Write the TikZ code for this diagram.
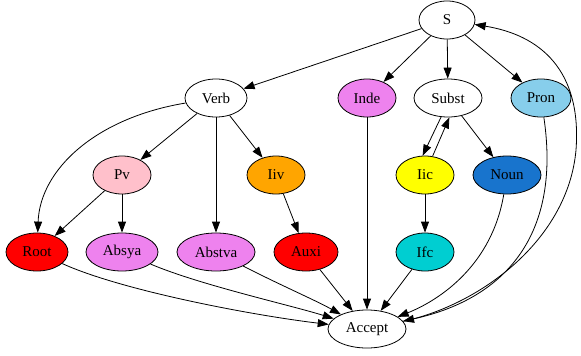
\documentclass[tikz,border=0pt]{standalone}
\usepackage{fontspec}
\setmainfont{Liberation Serif}
\usetikzlibrary{shapes.geometric,arrows.meta}

\definecolor{pvpink}{HTML}{FFC0CB}
\definecolor{iivorange}{HTML}{FFA500}
\definecolor{rootred}{HTML}{FF0000}
\definecolor{absviolet}{HTML}{EE82EE}
\definecolor{iicyellow}{HTML}{FFFF00}
\definecolor{ifcturq}{HTML}{00CED1}
\definecolor{nounblue}{HTML}{1874CD}
\definecolor{pronsky}{HTML}{87CEEB}

\begin{document}
\begin{tikzpicture}[x=1pt,y=-1pt,
  st/.style={draw=black,ellipse,minimum height=38pt,inner sep=0pt,line width=0.8pt,
    font=\fontsize{15}{18}\selectfont},
  ar/.style={draw=black,line width=0.8pt,-{Triangle[length=11pt,width=8pt]}}]

\useasboundingbox (0,0) rectangle (581,356);

%top
\node[st,minimum width=56pt] (s) at (447,20) {S};

%second row
\node[st,minimum width=62pt] (verb) at (216,98) {Verb};
\node[st,minimum width=58pt,fill=absviolet] (inde) at (367,98) {Inde};
\node[st,minimum width=68pt] (subst) at (448,98) {Subst};
\node[st,minimum width=60pt,fill=pronsky] (pron) at (541,98) {Pron};

%third row
\node[st,minimum width=58pt,fill=pvpink] (pv) at (122,175) {Pv};
\node[st,minimum width=58pt,fill=iivorange] (iiv) at (276,175) {Iiv};
\node[st,minimum width=58pt,fill=iicyellow] (iic) at (425,175) {Iic};
\node[st,minimum width=68pt,fill=nounblue] (noun) at (507,175) {Noun};

%fourth row
\node[st,minimum width=62pt,fill=rootred] (root) at (37,252) {Root};
\node[st,minimum width=72pt,fill=absviolet] (absya) at (122,252) {Absya};
\node[st,minimum width=78pt,fill=absviolet] (abstva) at (216,252) {Abstva};
\node[st,minimum width=64pt,fill=rootred] (auxi) at (306,252) {Auxi};
\node[st,minimum width=58pt,fill=ifcturq] (ifc) at (425,252) {Ifc};

%bottom
\node[st,minimum width=78pt] (accept) at (367,329) {Accept};

%edges from s
\path[ar] (s) -- (verb);
\path[ar] (s) -- (inde);
\path[ar] (s) -- (subst);
\path[ar] (s) -- (pron);

%verb
\path[ar] (verb) -- (pv);
\path[ar] (verb) -- (abstva);
\path[ar] (verb) -- (iiv);
\path[ar] (verb) .. controls (95,118) and (40,170) .. (root);
\path[ar] (pv) -- (root);
\path[ar] (pv) -- (absya);
\path[ar] (iiv) -- (auxi);

%subst
\path[ar] (subst.250) -- (iic.97);
\path[ar] (iic.68) -- (subst.274);
\path[ar] (subst) -- (noun);
\path[ar] (iic) -- (ifc);

%to accept
\path[ar] (root) .. controls (120,290) and (250,315) .. (accept);
\path[ar] (absya) .. controls (200,285) and (290,305) .. (accept);
\path[ar] (abstva) .. controls (280,285) and (315,300) .. (accept);
\path[ar] (auxi) -- (accept);
\path[ar] (inde) -- (accept);
\path[ar] (ifc) -- (accept);
\path[ar] (noun) .. controls (492,265) and (440,300) .. (accept);
\path[ar] (pron) .. controls (562,240) and (500,300) .. (accept);

%back to s
\path[ar] (accept) .. controls (480,305) and (568,240) .. (576,150)
  .. controls (582,70) and (540,35) .. (s);

\end{tikzpicture}
\end{document}
